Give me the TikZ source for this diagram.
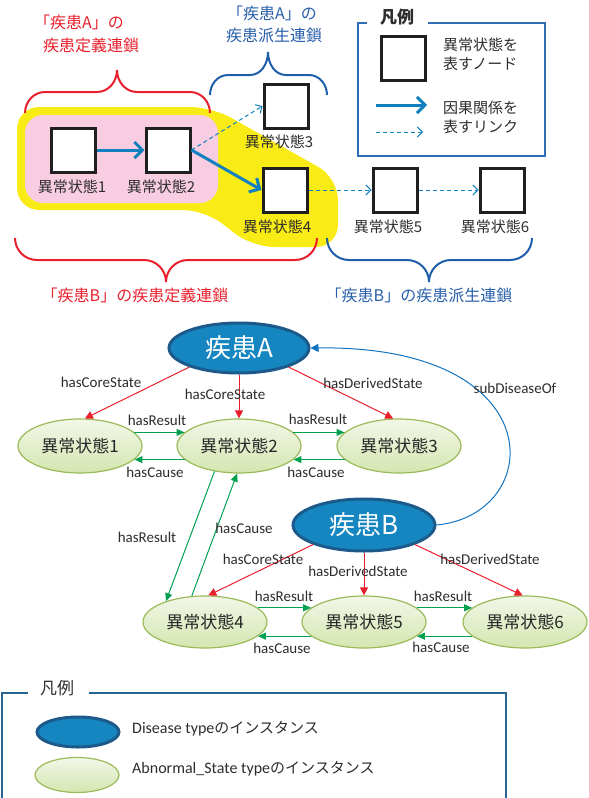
\documentclass[tikz,border=0pt]{standalone}
\usepackage{fontspec}
\setmainfont{Carlito}
\newfontfamily\jp{Noto Sans CJK JP}
\usetikzlibrary{arrows.meta,shapes.geometric}
\definecolor{cred}{RGB}{232,32,45}
\definecolor{cbluetxt}{RGB}{40,95,170}
\definecolor{cbrace}{RGB}{31,95,170}
\definecolor{cyellow}{RGB}{249,236,22}
\definecolor{cpink}{RGB}{248,205,225}
\definecolor{cthick}{RGB}{18,128,190}
\definecolor{clegtop}{RGB}{47,109,181}
\definecolor{clegbot}{RGB}{38,100,145}
\definecolor{cdis}{RGB}{22,134,192}
\definecolor{cdisb}{RGB}{28,90,140}
\definecolor{cabnb}{RGB}{155,187,89}
\definecolor{cabnt}{RGB}{242,247,232}
\definecolor{cabnbot}{RGB}{212,230,176}
\definecolor{cgreen}{RGB}{0,160,80}
\definecolor{csub}{RGB}{20,115,190}
\definecolor{ctxt}{RGB}{45,45,45}
\begin{document}
\begin{tikzpicture}[x=1pt,y=-1pt,
  sqbox/.style={draw=black!88, line width=3, fill=white, minimum size=44, inner sep=0},
  boxlab/.style={font=\jp\fontsize{15}{18}\selectfont, text=ctxt, inner sep=0},
  thickarrow/.style={draw=cthick, line width=3, -{Straight Barb[length=8pt,width=16pt]}},
  dasharrow/.style={draw=cthick, line width=1, dash pattern=on 4pt off 3pt, -{Straight Barb[length=5pt,width=10pt]}},
  bracered/.style={draw=cred, line width=2},
  braceblue/.style={draw=cbrace, line width=2},
  jtitle/.style={font=\jp\fontsize{16}{19}\selectfont, inner sep=0},
  dis/.style={ellipse, draw=cdisb, line width=3, fill=cdis, text=white, font=\jp\fontsize{26}{30}\selectfont, inner sep=0, minimum width=140, minimum height=50},
  abn/.style={ellipse, draw=cabnb, line width=1.2, top color=cabnt, bottom color=cabnbot, text=black!85, font=\jp\fontsize{17}{20}\selectfont, inner sep=0, minimum width=124, minimum height=54},
  redarr/.style={draw=cred, line width=1, -{Triangle[length=8pt,width=8pt]}},
  greenarr/.style={draw=cgreen, line width=1, -{Triangle[length=8pt,width=7pt]}},
  bluearr/.style={draw=csub, line width=1, -{Triangle[length=8pt,width=8pt]}},
  elab/.style={font=\fontsize{15}{18}\selectfont, text=ctxt, inner sep=0},
  legtxt/.style={font=\jp\fontsize{15}{18}\selectfont, text=ctxt, inner sep=0, anchor=west}
]
\useasboundingbox (0,0) rectangle (589,798);

% ---------- upper part ----------
\fill[cyellow, rounded corners=22] (17,107) -- (212,107) -- (338,178) -- (338,247) -- (252,247) -- (205,210) -- (17,210) -- cycle;
\fill[cpink, rounded corners=18] (25,115) rectangle (218,203);

\node[jtitle, text=cred] (ta1) at (79,22) {「疾患A」の};
\node[jtitle, text=cred] (ta2) at (91,45) {疾患定義連鎖};
\node[jtitle, text=cbluetxt] (tb1) at (272,13) {「疾患A」の};
\node[jtitle, text=cbluetxt] (tb2) at (274,35) {疾患派生連鎖};

\draw[bracered] (25,113) to[out=90,in=180] (45,92) -- (97,92) to[out=0,in=-90] (117,70)
  to[out=-90,in=180] (137,92) -- (190,92) to[out=0,in=90] (210,113);
\draw[braceblue] (210,95) to[out=90,in=180] (228,75) -- (250,75) to[out=0,in=-90] (268,52)
  to[out=-90,in=180] (286,75) -- (309,75) to[out=0,in=90] (327,95);

\node[sqbox] (b1) at (73,150) {};
\node[sqbox] (b2) at (168,150) {};
\node[sqbox] (b3) at (286,106) {};
\node[sqbox] (b4) at (285,190) {};
\node[sqbox] (b5) at (395,190) {};
\node[sqbox] (b6) at (502,190) {};
\node[boxlab] (l1) at (72,187) {異常状態1};
\node[boxlab] (l2) at (161,187) {異常状態2};
\node[boxlab] (l3) at (279,142) {異常状態3};
\node[boxlab] (l4) at (277,227) {異常状態4};
\node[boxlab] (l5) at (388,227) {異常状態5};
\node[boxlab] (l6) at (495,227) {異常状態6};

\draw[thickarrow] (b1.east) -- (b2.west);
\draw[thickarrow] (b2.east) -- (b4.west);
\draw[dasharrow] (b2.east) -- (b3.west);
\draw[dasharrow] (b4.east) -- (b5.west);
\draw[dasharrow] (b5.east) -- (b6.west);

\draw[bracered] (15,238) to[out=-90,in=180] (37,260) -- (144,260) to[out=0,in=90] (166,282)
  to[out=90,in=180] (188,260) -- (295,260) to[out=0,in=-90] (317,238);
\draw[braceblue] (327,238) to[out=-90,in=180] (349,260) -- (407,260) to[out=0,in=90] (429,282)
  to[out=90,in=180] (451,260) -- (510,260) to[out=0,in=-90] (532,238);
\node[jtitle, text=cred] (tc) at (135,295) {「疾患B」の疾患定義連鎖};
\node[jtitle, text=cbluetxt] (td) at (419,295) {「疾患B」の疾患派生連鎖};

% legend (top)
\draw[draw=clegtop, line width=1.5] (367,23) -- (358,23) -- (358,156) -- (545,156) -- (545,23) -- (428,23);
\node[font=\jp\bfseries\fontsize{17}{20}\selectfont, text=ctxt, inner sep=0] (lt) at (397,17) {凡例};
\node[sqbox] (lsq) at (403,58) {};
\node[legtxt] (lt1) at (443,45) {異常状態を};
\node[legtxt] (lt2) at (443,64) {表すノード};
\coordinate (la1) at (376,105);
\coordinate (la2) at (427,105);
\draw[thickarrow] (la1) -- (la2);
\coordinate (ld1) at (376,132);
\coordinate (ld2) at (423,132);
\draw[dasharrow] (ld1) -- (ld2);
\node[legtxt] (lt3) at (443,108) {因果関係を};
\node[legtxt] (lt4) at (443,127) {表すリンク};

% ---------- graph ----------
\node[dis] (A) at (239,348) {疾患A};
\node[dis, minimum width=142, minimum height=52] (B) at (364,525) {疾患B};
\node[abn] (s1) at (80,446) {異常状態1};
\node[abn] (s2) at (239,446) {異常状態2};
\node[abn] (s3) at (399,446) {異常状態3};
\node[abn, minimum height=52] (s4) at (205,622) {異常状態4};
\node[abn, minimum height=52] (s5) at (364,622) {異常状態5};
\node[abn, minimum height=52] (s6) at (525,622) {異常状態6};

\draw[redarr] (A.201) -- (s1.80);
\draw[redarr] (A.south) -- (s2.north);
\draw[redarr] (A.-21) -- (s3.102);
\draw[redarr] (B.201) -- (s4.83);
\draw[redarr] (B.south) -- (s5.north);
\draw[redarr] (B.-21) -- (s6.95);

\draw[greenarr] (s1.14) -- (s2.166);
\draw[greenarr] (s2.194) -- (s1.-14);
\draw[greenarr] (s2.14) -- (s3.166);
\draw[greenarr] (s3.194) -- (s2.-14);
\draw[greenarr] (s2.226) -- (s4.152);
\draw[greenarr] (s4.117) -- (s2.266);
\draw[greenarr] (s4.15) -- (s5.165);
\draw[greenarr] (s5.195) -- (s4.-15);
\draw[greenarr] (s5.15) -- (s6.165);
\draw[greenarr] (s6.195) -- (s5.-15);

\draw[bluearr] (B.east) .. controls (545,515) and (555,345) .. (A.east);

\node[elab] (e1) at (101,382) {hasCoreState};
\node[elab] (e2) at (225,394) {hasCoreState};
\node[elab] (e3) at (373,383) {hasDerivedState};
\node[elab] (e4) at (157,420) {hasResult};
\node[elab] (e5) at (155,472) {hasCause};
\node[elab] (e6) at (318,419) {hasResult};
\node[elab] (e7) at (316,472) {hasCause};
\node[elab] (e8) at (147,537) {hasResult};
\node[elab] (e9) at (244,528) {hasCause};
\node[elab] (e10) at (263,559) {hasCoreState};
\node[elab] (e11) at (358,571) {hasDerivedState};
\node[elab] (e12) at (490,559) {hasDerivedState};
\node[elab] (e13) at (284,596) {hasResult};
\node[elab] (e14) at (282,648) {hasCause};
\node[elab] (e15) at (443,596) {hasResult};
\node[elab] (e16) at (441,647) {hasCause};
\node[elab] (e17) at (515,388) {subDiseaseOf};

% ---------- legend (bottom) ----------
\draw[draw=clegbot, line width=2.5] (28,693) -- (2,693) -- (2,805);
\draw[draw=clegbot, line width=2.5] (89,693) -- (506,693) -- (506,805);
\node[font=\jp\fontsize{17}{20}\selectfont, text=ctxt, inner sep=0] (lb) at (57,688) {凡例};
\node[dis, minimum width=82, minimum height=30] (lgd) at (78,732) {};
\node[abn, minimum width=84, minimum height=35] (lga) at (77,775) {};
\node[font=\fontsize{16}{19}\selectfont, text=ctxt, inner sep=0, anchor=west] (lgt1) at (132,729) {Disease type{\jp\fontsize{15}{18}\selectfont のインスタンス}};
\node[font=\fontsize{16}{19}\selectfont, text=ctxt, inner sep=0, anchor=west] (lgt2) at (132,769) {Abnormal\_State type{\jp\fontsize{15}{18}\selectfont のインスタンス}};
\end{tikzpicture}
\end{document}
